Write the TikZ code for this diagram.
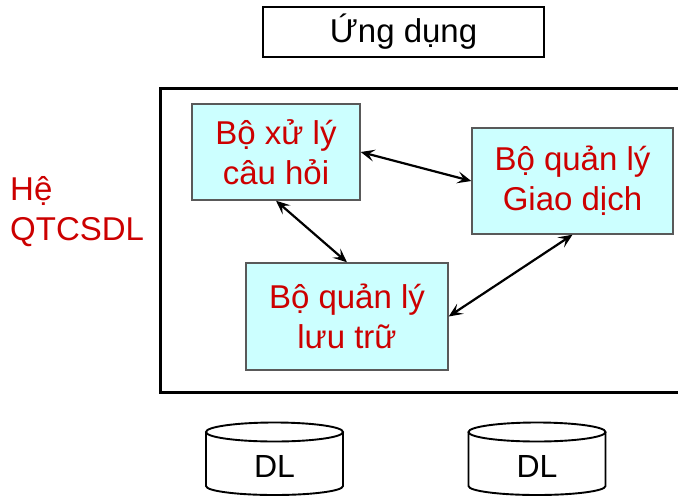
\documentclass[tikz,border=0pt]{standalone}
\usepackage{fontspec}
\setmainfont{Liberation Sans}
\usetikzlibrary{arrows.meta}
\definecolor{txtred}{RGB}{204,0,0}
\definecolor{boxfill}{RGB}{204,255,255}
\begin{document}
\begin{tikzpicture}[x=1pt,y=-1pt,
  modbox/.style={draw=black!65, line width=1.4pt, fill=boxfill, text=txtred, align=center,
    font=\fontsize{33}{40}\selectfont, inner sep=0pt},
  link/.style={line width=2.2pt, {Stealth[length=14pt,width=12pt,inset=6pt]}-{Stealth[length=14pt,width=12pt,inset=6pt]}},
  dbshape/.style={line width=1.9pt},
  dbtext/.style={font=\fontsize{32}{38}\selectfont, inner sep=0pt}]
\useasboundingbox (0,0) rectangle (678,496);
\clip (0,0) rectangle (678,496);
% application box
\node[draw, line width=2.8pt, minimum width=281pt, minimum height=50pt, inner sep=0pt,
  font=\fontsize{33}{38}\selectfont] (app) at (403.5,32) {Ứng dụng};
% DBMS frame
\draw[line width=3pt] (160,88) rectangle (700,392);
\node[anchor=base west, align=left, text=txtred, inner sep=0pt,
  font=\fontsize{33}{40}\selectfont] (dbms) at (10,240) {Hệ\\QTCSDL};
% modules
\node[modbox, minimum width=168pt, minimum height=96pt] (qp) at (276,152) {Bộ xử lý\\câu hỏi};
\node[modbox, minimum width=201pt, minimum height=106pt] (tm) at (572.5,181) {Bộ quản lý\\Giao dịch};
\node[modbox, minimum width=202pt, minimum height=107pt] (sm) at (347,316.5) {Bộ quản lý\\lưu trữ};
% links
\draw[link] (qp.east) -- (tm.west);
\draw[link] (qp.south) -- (sm.north);
\draw[link] (sm.east) -- (tm.south);
% databases
\foreach \cx/\nm in {274.5/db1, 537/db2}{
  \draw[dbshape] (\cx,432) ellipse [x radius=68.5pt, y radius=9.5pt];
  \draw[dbshape] (\cx-68.5,432) -- (\cx-68.5,486) arc[start angle=180, end angle=360, x radius=68.5pt, y radius=9pt] -- (\cx+68.5,432);
  \node[dbtext] (\nm) at (\cx,466) {DL};
}
\end{tikzpicture}
\end{document}
